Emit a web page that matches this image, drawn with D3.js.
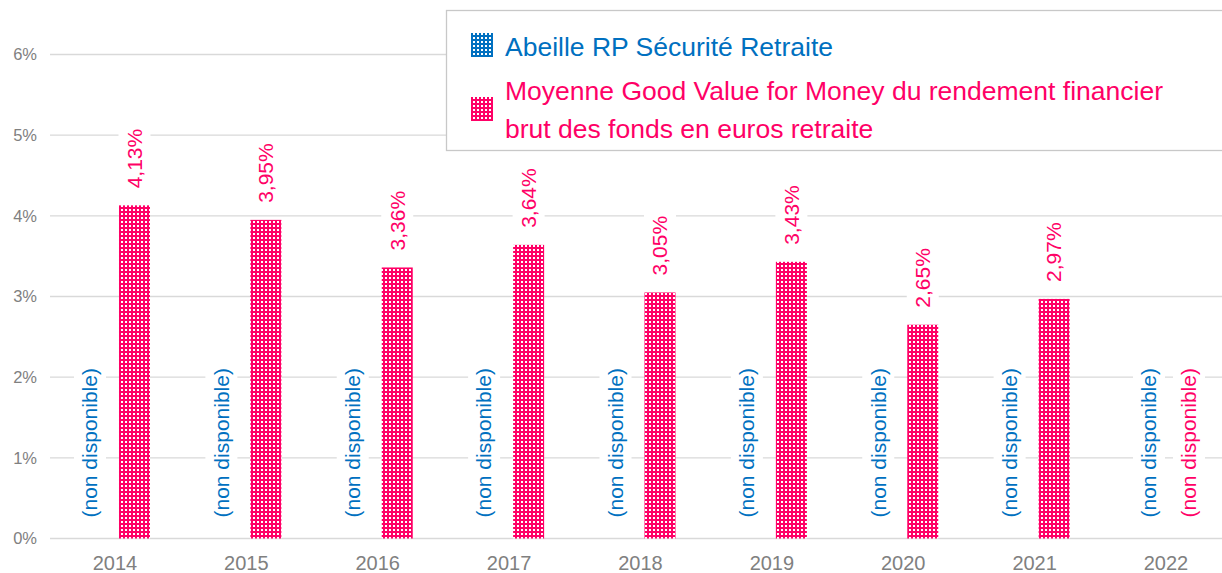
<!DOCTYPE html>
<html>
<head>
<meta charset="utf-8">
<script src="https://cdn.jsdelivr.net/npm/d3@7"></script>
<style>
  body { margin: 0; background: #fff; }
  svg { display: block; font-family: "Liberation Sans", Arial, sans-serif; }
</style>
</head>
<body>
<div id="chart"></div>
<script>
var w = 1222;
var h = 573;

var years = ["2014", "2015", "2016", "2017", "2018", "2019", "2020", "2021", "2022"];
var seriesNames = ["Abeille RP Sécurité Retraite",
  "Moyenne Good Value for Money du rendement financier brut des fonds en euros retraite"];
var legendLines = [["Abeille RP Sécurité Retraite"],
  ["Moyenne Good Value for Money du rendement financier", "brut des fonds en euros retraite"]];
var abeille = [null, null, null, null, null, null, null, null, null];
var moyenne = [4.13, 3.95, 3.36, 3.64, 3.05, 3.43, 2.65, 2.97, null];
var yTicks = [0, 1, 2, 3, 4, 5, 6];
var colors = ["#0070C0", "#FF0066"];
var missingText = "(non disponible)";

var fr = d3.formatLocale({ decimal: ",", thousands: " ", grouping: [3], currency: ["", " €"] });
var fmt = fr.format(".2f");

var xScale = d3.scaleBand().domain(years).range([49.3, 1231.7]);
var xInner = d3.scaleBand().domain([0, 1]).range([-35, 35]).paddingInner(0.205);
var yScale = d3.scaleLinear().domain([0, 6]).range([538.5, 54.5]);

var svg = d3.select("#chart").append("svg").attr("width", w).attr("height", h);

// patterns
var defs = svg.append("defs");
colors.forEach(function (c, i) {
  var p = defs.append("pattern")
    .attr("id", "pat" + i)
    .attr("width", 4).attr("height", 4)
    .attr("patternUnits", "userSpaceOnUse");
  p.append("rect").attr("width", 4).attr("height", 4).attr("fill", c);
  p.append("rect").attr("x", 1).attr("y", 1).attr("width", 2).attr("height", 2).attr("fill", "#fff");
});

// gridlines
svg.append("g")
  .selectAll("line")
  .data(yTicks)
  .enter()
  .append("line")
  .attr("x1", 50)
  .attr("x2", w)
  .attr("y1", function (d) { return yScale(d); })
  .attr("y2", function (d) { return yScale(d); })
  .attr("stroke", "#d9d9d9")
  .attr("stroke-width", 1.3);

svg.append("g")
  .selectAll("text")
  .data(yTicks)
  .enter()
  .append("text")
  .attr("x", 37)
  .attr("y", function (d) { return yScale(d); })
  .attr("dy", "0.35em")
  .attr("text-anchor", "end")
  .attr("font-size", 16.5)
  .attr("fill", "#808080")
  .text(function (d) { return d + "%"; });

svg.append("g")
  .selectAll("text")
  .data(years)
  .enter()
  .append("text")
  .attr("x", function (d) { return xScale(d) + xScale.bandwidth() / 2; })
  .attr("y", 570)
  .attr("text-anchor", "middle")
  .attr("font-size", 20)
  .attr("fill", "#808080")
  .text(function (d) { return d; });

// bars
var series = [abeille, moyenne];
var rows = [];
series.forEach(function (vals, s) {
  vals.forEach(function (v, i) {
    rows.push({ s: s, year: years[i], v: v, other: series[1 - s][i] });
  });
});

function cx(d) {
  return xScale(d.year) + xScale.bandwidth() / 2 + xInner(d.s) + xInner.bandwidth() / 2;
}

svg.append("g")
  .selectAll("rect")
  .data(rows.filter(function (d) { return d.v !== null; }))
  .enter()
  .append("rect")
  .attr("x", function (d) { return xScale(d.year) + xScale.bandwidth() / 2 + xInner(d.s); })
  .attr("y", function (d) { return yScale(d.v); })
  .attr("width", xInner.bandwidth())
  .attr("height", function (d) { return yScale(0) - yScale(d.v); })
  .attr("fill", function (d) { return "url(#pat" + d.s + ")"; });

// labels
var labels = svg.append("g")
  .selectAll("g")
  .data(rows)
  .enter()
  .append("g")
  .attr("transform", function (d) {
    var x = cx(d);
    var y;
    if (d.v === null) {
      if (d.s === 0) x += d.other !== null ? -5.5 : 2.5;
      else x += 3.5;
      y = yScale(0) - 21;
    } else {
      y = yScale(d.v) - 17;
    }
    return "translate(" + x + "," + y + ") rotate(-90)";
  });

labels.append("rect").attr("fill", "#fff");
labels.append("text")
  .attr("dy", "0.35em")
  .attr("font-size", 21)
  .attr("fill", function (d) { return colors[d.s]; })
  .text(function (d) { return d.v === null ? missingText : fmt(d.v) + "%"; });

labels.each(function () {
  var g = d3.select(this);
  var len = g.select("text").node().getComputedTextLength();
  g.select("rect")
    .attr("x", -3).attr("y", -16)
    .attr("width", len + 6).attr("height", 32);
});

// legend
var legend = svg.append("g");
legend.append("rect")
  .attr("x", 446.5).attr("y", 10.5)
  .attr("width", 800).attr("height", 140)
  .attr("fill", "#fff")
  .attr("stroke", "#c8c8c8")
  .attr("stroke-width", 1.3);

var legendY = [[56], [100, 138]];
var swatchY = [33, 97];
legendLines.forEach(function (lines, i) {
  legend.append("rect")
    .attr("x", 471).attr("y", swatchY[i])
    .attr("width", 22).attr("height", 24)
    .attr("fill", "url(#pat" + i + ")");
  lines.forEach(function (t, j) {
    legend.append("text")
      .attr("x", 505)
      .attr("y", legendY[i][j])
      .attr("font-size", 26.5)
      .attr("fill", colors[i])
      .text(t);
  });
});
</script>
</body>
</html>
